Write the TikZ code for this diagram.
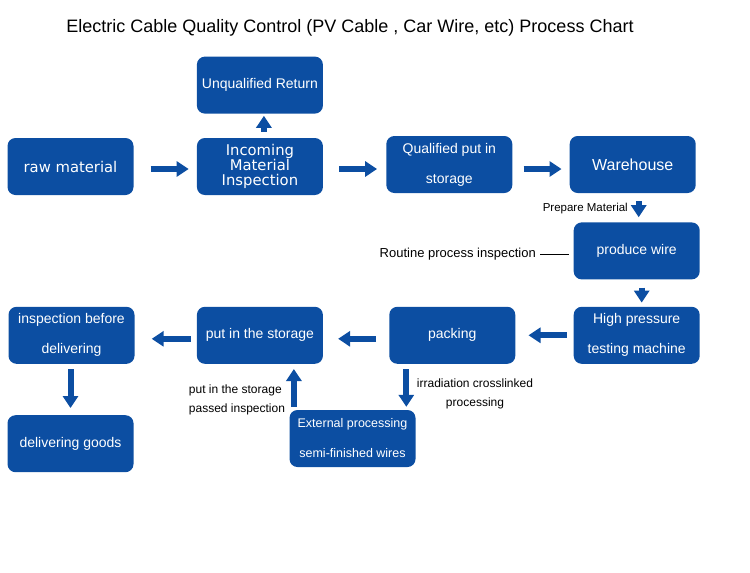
\documentclass[tikz,border=0pt]{standalone}
\usepackage{fontspec}
\setmainfont{Liberation Sans}
\newfontfamily\dejavu{DejaVu Sans}
\usetikzlibrary{arrows.meta,positioning}
\definecolor{flowblue}{RGB}{12,78,162}

\begin{document}
\begin{tikzpicture}[
    x=1pt, y=-1pt,
    node distance=24pt,
    box/.style={rectangle, rounded corners=8pt, fill=flowblue, text=white, minimum width=126pt, minimum height=57pt, align=center, font=\fontsize{14}{16}\selectfont},
    twoline/.style={font=\fontsize{14}{30}\selectfont},
    wide/.style={font=\dejavu\fontsize{14.8}{15}\selectfont},
    note/.style={inner sep=0pt, align=center, font=\fontsize{12}{19}\selectfont},
    arrow/.style={-{Triangle[width=15pt,length=12pt]}, line width=6pt, flowblue}
]
    \useasboundingbox (0,0) rectangle (750,573);

    \node (title) at (350,28) {\fontsize{18}{20}\selectfont Electric Cable Quality Control (PV Cable , Car Wire, etc) Process Chart};

    \node[box, wide] (raw) at (70.5,166.5) {raw material};
    \node[box, wide, right=63pt of raw] (incoming) {Incoming\\Material\\Inspection};
    \node[box, above=of incoming] (unqualified) {Unqualified Return};
    \node[box, twoline, right=63pt of incoming, yshift=2pt] (qualified) {Qualified put in\\storage};
    \node[box, right=57pt of qualified, font=\fontsize{16}{18}\selectfont] (warehouse) {Warehouse};
    \node[box, below=29pt of warehouse, xshift=4pt] (produce) {produce wire};
    \node[box, twoline, below=27pt of produce] (pressure) {High pressure\\testing machine};
    \node[box, left=58pt of pressure] (packing) {packing};
    \node[box, left=66pt of packing] (storage) {put in the storage};
    \node[box, twoline, left=62pt of storage] (inspect) {inspection before\\delivering};
    \node[box, below=51pt of inspect, xshift=-1pt] (goods) {delivering goods};
    \node[box, twoline, font=\fontsize{12.5}{30}\selectfont] (external) at (352.5,438.5) {External processing\\semi-finished wires};

    % labels
    \node[note, anchor=east, font=\fontsize{11.5}{14}\selectfont] (prepare) at (628,209) {Prepare Material};
    \node[note, anchor=east, font=\fontsize{13}{16}\selectfont] (routine) at (536,254) {Routine process inspection};
    \node[note, align=left] (passed) at (237,399.5) {put in the storage\\passed inspection};
    \node[note] (irradiation) at (475,393.5) {irradiation crosslinked\\processing};

    % flow
    \draw[arrow, shorten <=17pt, shorten >=8pt] ([yshift=-2.5pt]raw.east) -- ([yshift=-2.5pt]incoming.west);
    \draw[arrow, shorten <=6pt, shorten >=2pt] ([xshift=4pt]incoming.north) -- ([xshift=4pt]unqualified.south);
    \draw[arrow, shorten <=16pt, shorten >=9pt] ([yshift=-2.5pt]incoming.east) -- ([yshift=-2.5pt]incoming.east -| qualified.west);
    \draw[arrow, shorten <=11pt, shorten >=8pt] ([yshift=-4.5pt]qualified.east) -- ([yshift=-4.5pt]warehouse.west);
    \draw[arrow, shorten <=8pt, shorten >=5pt] ([xshift=6pt]warehouse.south) -- ([xshift=6pt]warehouse.south |- produce.north);
    \draw[arrow, shorten <=8pt, shorten >=4pt] ([xshift=5pt]produce.south) -- ([xshift=5pt]pressure.north);
    \draw[arrow, shorten <=7pt, shorten >=13pt] (pressure.west) -- (packing.east);
    \draw[arrow, shorten <=13pt, shorten >=15pt] ([yshift=-3.5pt]packing.west) -- ([yshift=-3.5pt]storage.east);
    \draw[arrow, shorten <=6pt, shorten >=17pt] ([yshift=-3.5pt]storage.west) -- ([yshift=-3.5pt]inspect.east);
    \draw[arrow, shorten <=5pt, shorten >=7pt] ([xshift=-1pt]inspect.south) -- (goods.north);
    \draw[arrow, shorten <=5pt, shorten >=3pt] ([xshift=-46pt]packing.south) -- ([xshift=-46pt]packing.south |- external.north);
    \draw[arrow, shorten <=3pt, shorten >=5pt] ([xshift=34pt]storage.south |- external.north) -- ([xshift=34pt]storage.south);
    \draw[black, line width=0.8pt, shorten <=4pt, shorten >=5pt] (routine) -- (routine -| produce.west);
\end{tikzpicture}
\end{document}
